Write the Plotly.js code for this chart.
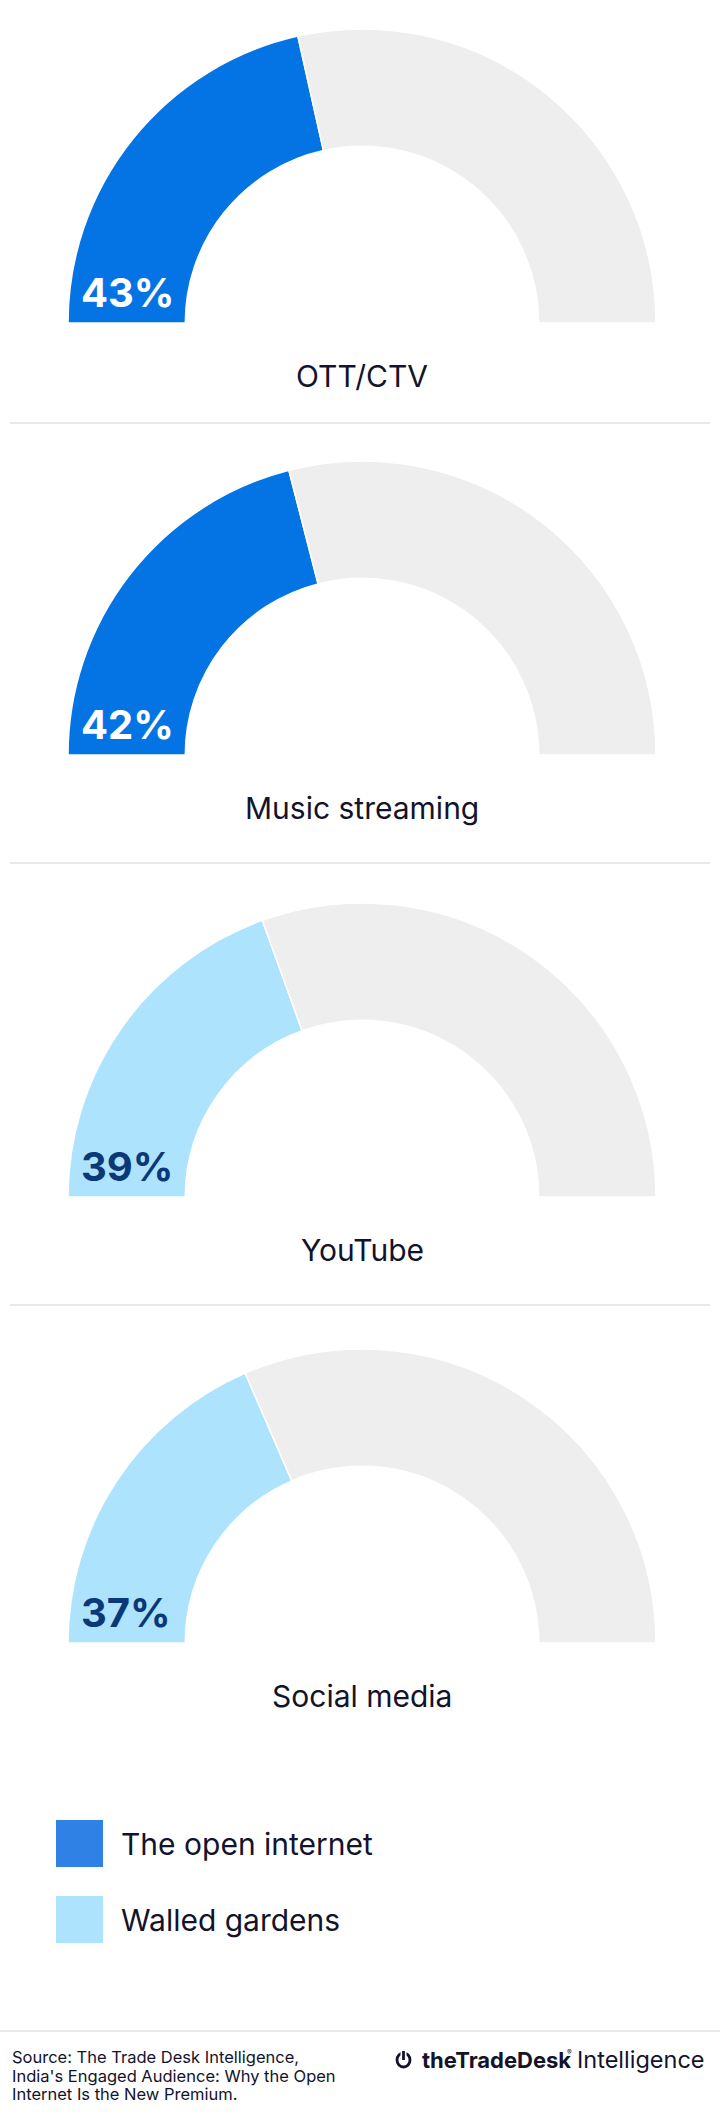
<!DOCTYPE html>
<html>
<head>
<meta charset="utf-8">
<script src="https://cdn.plot.ly/plotly-3.0.1.min.js"></script>
<style>
  html, body { margin: 0; padding: 0; background: #ffffff; }
  #chart { width: 720px; height: 2122px; }
</style>
</head>
<body>
<div id="chart"></div>
<script>
// ---- data ----
var categories = ['OTT/CTV', 'Music streaming', 'YouTube', 'Social media'];
var shares = [43, 42, 39, 37];
var groups = ['The open internet', 'The open internet', 'Walled gardens', 'Walled gardens'];
var legendLabels = ['The open internet', 'Walled gardens'];
var sourceLines = [
  'Source: The Trade Desk Intelligence,',
  "India's Engaged Audience: Why the Open",
  'Internet Is the New Premium.'
];

// ---- styles ----
var W = 720, H = 2122;
var FONT = 'Inter, "Noto Sans", "DejaVu Sans", sans-serif';
var TEXT = '#13132c';
var barColor = { 'The open internet': '#0474E4', 'Walled gardens': '#AEE3FE' };
var legendColor = { 'The open internet': '#2F81E6', 'Walled gardens': '#AEE3FE' };
var pctColor = { 'The open internet': '#ffffff', 'Walled gardens': '#0B3978' };
var REST = '#EEEEEE';

var gaugeBottoms = [323, 755, 1197, 1643];
var cx = 362, R = 294, HOLE = 0.601;

var traces = [];
var annotations = [];
var shapes = [];

categories.forEach(function (cat, i) {
  var yb = gaugeBottoms[i];
  var v = shares[i];
  traces.push({
    type: 'pie',
    values: [v, 100 - v, 100],
    labels: [groups[i], 'Other', 'hidden'],
    sort: false,
    direction: 'clockwise',
    rotation: -90,
    hole: HOLE,
    textinfo: 'none',
    hoverinfo: 'skip',
    showlegend: false,
    marker: {
      colors: [barColor[groups[i]], REST, 'rgba(0,0,0,0)'],
      line: { color: ['#ffffff', '#ffffff', 'rgba(0,0,0,0)'], width: 1.5 }
    },
    domain: {
      x: [(cx - R) / W, (cx + R) / W],
      y: [1 - (yb + R) / H, 1 - (yb - R) / H]
    }
  });
  // percent label
  annotations.push({
    xref: 'x', yref: 'y', x: 79, y: yb - 30.5,
    xanchor: 'left', yanchor: 'middle',
    text: '<b>' + v + '%</b>', showarrow: false,
    font: { family: FONT, size: 40, color: pctColor[groups[i]] }
  });
  // category label
  annotations.push({
    xref: 'x', yref: 'y', x: cx, y: yb + 53,
    xanchor: 'center', yanchor: 'middle',
    text: cat, showarrow: false,
    font: { family: FONT, size: 30, color: TEXT }
  });
});

// separators between gauges
[423, 863, 1305].forEach(function (y) {
  shapes.push({ type: 'line', xref: 'x', yref: 'y', x0: 10, x1: 710, y0: y, y1: y,
    line: { color: '#E2E2E2', width: 1.5 } });
});

// legend
var legendTops = [1820, 1896];
legendLabels.forEach(function (lab, i) {
  var t = legendTops[i];
  shapes.push({ type: 'rect', xref: 'x', yref: 'y', x0: 56, x1: 103, y0: t, y1: t + 47,
    fillcolor: legendColor[lab], line: { width: 0 } });
  annotations.push({
    xref: 'x', yref: 'y', x: 119, y: t + 23.5, xanchor: 'left', yanchor: 'middle',
    text: lab, showarrow: false, font: { family: FONT, size: 30, color: TEXT }
  });
});

// footer
shapes.push({ type: 'line', xref: 'x', yref: 'y', x0: 0, x1: 720, y0: 2031, y1: 2031,
  line: { color: '#E0E0E0', width: 1.5 } });
var srcCenters = [2057, 2076, 2094];
sourceLines.forEach(function (line, i) {
  annotations.push({
    xref: 'x', yref: 'y', x: 10, y: srcCenters[i], xanchor: 'left', yanchor: 'middle',
    text: line, showarrow: false, font: { family: FONT, size: 16.5, color: TEXT }
  });
});

// logo: power icon
shapes.push({ type: 'circle', xref: 'x', yref: 'y', x0: 397, x1: 410, y0: 2053, y1: 2067,
  line: { color: TEXT, width: 2.8 }, fillcolor: 'rgba(0,0,0,0)' });
shapes.push({ type: 'rect', xref: 'x', yref: 'y', x0: 400.5, x1: 406.5, y0: 2050, y1: 2056,
  line: { width: 0 }, fillcolor: '#ffffff' });
shapes.push({ type: 'line', xref: 'x', yref: 'y', x0: 403.5, x1: 403.5, y0: 2051, y1: 2060,
  line: { color: TEXT, width: 2.8 } });
annotations.push({
  xref: 'x', yref: 'y', x: 420, y: 2060, xanchor: 'left', yanchor: 'middle',
  text: '<b>theTradeDesk</b>', showarrow: false,
  font: { family: FONT, size: 22, color: TEXT }
});
annotations.push({
  xref: 'x', yref: 'y', x: 565, y: 2052, xanchor: 'left', yanchor: 'middle',
  text: '®', showarrow: false, font: { family: FONT, size: 7, color: TEXT }
});
annotations.push({
  xref: 'x', yref: 'y', x: 575, y: 2059.5, xanchor: 'left', yanchor: 'middle',
  text: 'Intelligence', showarrow: false,
  font: { family: FONT, size: 23.5, color: TEXT }
});

var layout = {
  width: W, height: H,
  margin: { l: 0, r: 0, t: 0, b: 0, pad: 0 },
  paper_bgcolor: '#ffffff', plot_bgcolor: 'rgba(0,0,0,0)',
  showlegend: false,
  xaxis: { range: [0, W], visible: false, fixedrange: true },
  yaxis: { range: [H, 0], visible: false, fixedrange: true },
  shapes: shapes,
  annotations: annotations
};

Plotly.newPlot('chart', traces, layout, { displayModeBar: false, staticPlot: true });
</script>
</body>
</html>
